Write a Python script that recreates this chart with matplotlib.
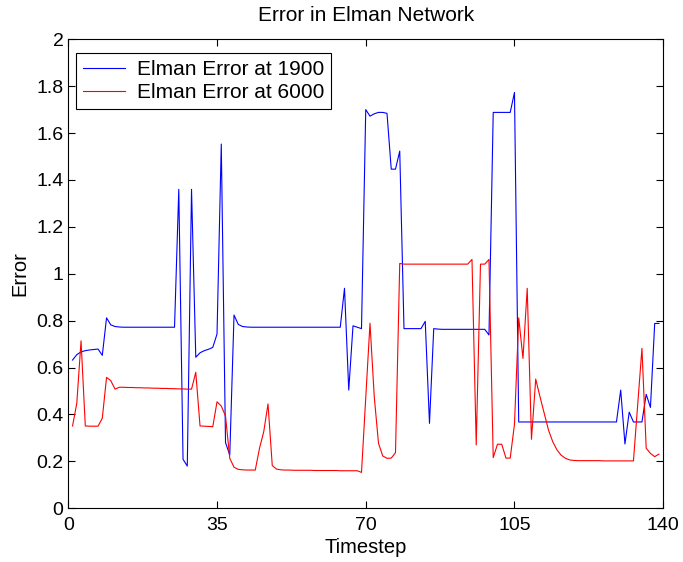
import matplotlib
matplotlib.use("Agg")
import matplotlib.pyplot as plt
import numpy as np
from matplotlib.ticker import FormatStrFormatter

plt.rcParams['font.family'] = ['Liberation Sans', 'DejaVu Sans']

# error after 1900 epochs (timesteps 1..139)
err_1900 = [
    0.632, 0.655, 0.667, 0.672, 0.675, 0.677, 0.679, 0.652, 0.812, 0.782,
    0.775, 0.773, 0.772, 0.772, 0.772, 0.772, 0.772, 0.772, 0.772, 0.772,
    0.772, 0.772, 0.772, 0.772, 0.772, 1.360, 0.209, 0.180, 1.360, 0.644,
    0.663, 0.672, 0.678, 0.686, 0.743, 1.553, 0.280, 0.227, 0.824, 0.784,
    0.775, 0.773, 0.772, 0.772, 0.772, 0.772, 0.772, 0.772, 0.772, 0.772,
    0.772, 0.772, 0.772, 0.772, 0.772, 0.772, 0.772, 0.772, 0.772, 0.772,
    0.772, 0.772, 0.772, 0.772, 0.938, 0.504, 0.778, 0.772, 0.766, 1.700,
    1.672, 1.682, 1.688, 1.688, 1.684, 1.446, 1.446, 1.523, 0.766, 0.766,
    0.766, 0.766, 0.766, 0.797, 0.362, 0.766, 0.764, 0.763, 0.763, 0.763,
    0.763, 0.763, 0.763, 0.763, 0.763, 0.763, 0.763, 0.763, 0.739, 1.688,
    1.688, 1.688, 1.688, 1.688, 1.773, 0.368, 0.368, 0.368, 0.368, 0.368,
    0.368, 0.368, 0.368, 0.368, 0.368, 0.368, 0.368, 0.368, 0.368, 0.368,
    0.368, 0.368, 0.368, 0.368, 0.368, 0.368, 0.368, 0.368, 0.368, 0.504,
    0.274, 0.410, 0.368, 0.368, 0.368, 0.486, 0.430, 0.788, 0.788,
]

# error after 6000 epochs
err_6000 = [
    0.351, 0.448, 0.714, 0.351, 0.350, 0.350, 0.350, 0.384, 0.558, 0.544,
    0.508, 0.516, 0.516, 0.515, 0.515, 0.514, 0.514, 0.513, 0.513, 0.512,
    0.512, 0.511, 0.511, 0.510, 0.510, 0.509, 0.509, 0.508, 0.508, 0.580,
    0.351, 0.350, 0.349, 0.348, 0.454, 0.436, 0.393, 0.213, 0.175, 0.166,
    0.164, 0.163, 0.163, 0.163, 0.256, 0.327, 0.445, 0.182, 0.167, 0.164,
    0.163, 0.163, 0.162, 0.162, 0.162, 0.162, 0.162, 0.161, 0.161, 0.161,
    0.161, 0.161, 0.161, 0.160, 0.160, 0.160, 0.160, 0.160, 0.153, 0.470,
    0.789, 0.476, 0.277, 0.223, 0.213, 0.214, 0.237, 1.044, 1.041, 1.041,
    1.041, 1.041, 1.041, 1.041, 1.041, 1.041, 1.041, 1.041, 1.041, 1.041,
    1.041, 1.041, 1.041, 1.041, 1.061, 0.270, 1.041, 1.041, 1.061, 0.216,
    0.273, 0.273, 0.214, 0.214, 0.358, 0.812, 0.639, 0.938, 0.294, 0.551,
    0.476, 0.405, 0.334, 0.284, 0.249, 0.226, 0.213, 0.206, 0.204, 0.203,
    0.203, 0.203, 0.203, 0.203, 0.203, 0.202, 0.202, 0.202, 0.202, 0.202,
    0.202, 0.202, 0.202, 0.440, 0.682, 0.256, 0.234, 0.220, 0.231,
]

steps = np.arange(1, len(err_1900) + 1)
xticks = [0, 35, 70, 105, 140]
yticks = np.arange(0, 2.01, 0.2)

fig = plt.figure(figsize=(6.83, 5.62), dpi=100)
ax = fig.add_axes([0.1, 0.0956, 0.871, 0.8346])

ax.plot(steps, err_1900, color='blue', lw=0.8, label='Elman Error at 1900')
ax.plot(steps, err_6000, color='red', lw=0.8, label='Elman Error at 6000')

ax.set_xlim(0, 140)
ax.set_ylim(0, 2)
ax.set_xticks(xticks)
ax.set_yticks(yticks)
ax.yaxis.set_major_formatter(FormatStrFormatter('%g'))
ax.tick_params(direction='in', top=True, right=True, length=5, labelsize=14, width=0.8)
ax.tick_params(axis='x', pad=6)
for s in ax.spines.values():
    s.set_linewidth(0.8)

ax.set_xlabel('Timestep', fontsize=14.5, labelpad=3)
ax.set_ylabel('Error', fontsize=14.5, labelpad=5)
ax.set_title('Error in Elman Network', fontsize=15, pad=13)

leg = ax.legend(loc='upper left', bbox_to_anchor=(0.0134, 0.970), borderaxespad=0,
                fontsize=15, fancybox=False, edgecolor='black', framealpha=1,
                borderpad=0.32, handlelength=2.0, handletextpad=0.6,
                labelspacing=0.2)
leg.get_frame().set_linewidth(0.8)

fig.savefig('out.png', dpi=100)
